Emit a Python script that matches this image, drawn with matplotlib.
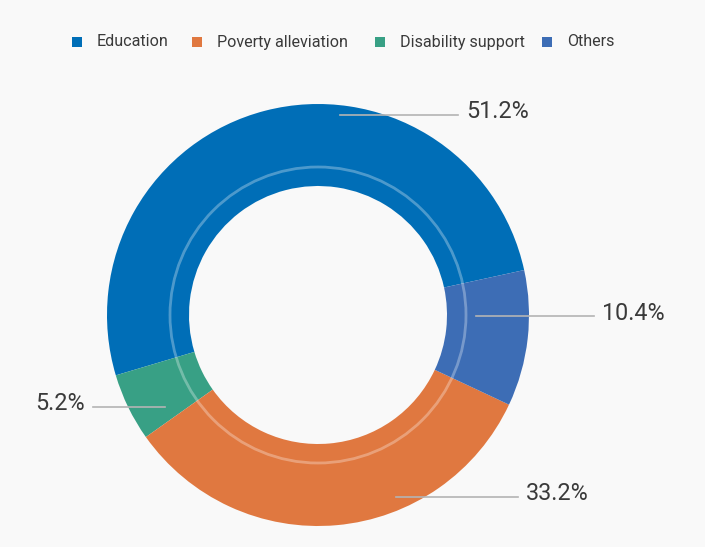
import matplotlib.pyplot as plt
from matplotlib.patches import Rectangle, Circle

# data (drawing order: counterclockwise from the Education/Others border)
names = ["Education", "Disability support", "Poverty alleviation", "Others"]
values = [51.2, 5.2, 33.2, 10.4]
colors = ["#006EB7", "#38A085", "#E07840", "#3D6DB5"]

# legend order as shown at the top
legend_names = ["Education", "Poverty alleviation", "Disability support", "Others"]

W, H = 705, 547
bg = "#F9F9F9"
cx, cy = 318, H - 315
r_out, r_in = 211, 129

fig = plt.figure(figsize=(W / 100, H / 100), dpi=100, facecolor=bg)
ax = fig.add_axes([0, 0, 1, 1])
ax.set_facecolor(bg)

ax.pie(values, colors=colors, startangle=12.3, counterclock=True,
       radius=r_out, center=(cx, cy),
       wedgeprops=dict(width=r_out - r_in, linewidth=0))

# faint inner ring
ax.add_patch(Circle((cx, cy), 148, fill=False, ec="white", lw=2, alpha=0.3))

# label lines: (y, line start x, line end x, text x, align)
label_pos = {
  "Education": (115, 340, 458, 466, "left"),
  "Others": (316, 476, 594, 602, "left"),
  "Poverty alleviation": (497, 396, 518, 526, "left"),
  "Disability support": (407, 165, 93, 85, "right"),
}
for name, v in zip(names, values):
  y, x0, x1, tx, ha = label_pos[name]
  ax.plot([x0, x1], [H - y, H - y], color="#B4B4B4", lw=1.2)
  ax.text(tx, H - y + 3, f"{v}%", ha=ha, va="center", fontsize=16.8,
          family="Roboto", color="#3A3A3A")

# legend
leg_x = [72, 192, 375, 542]
for name, x in zip(legend_names, leg_x):
  c = colors[names.index(name)]
  ax.add_patch(Rectangle((x, H - 47), 10, 10, color=c, lw=0))
  ax.text(x + 25, H - 42, name, ha="left", va="center", fontsize=11.6,
          family="Roboto", color="#3A3A3A")

ax.set_xlim(0, W)
ax.set_ylim(0, H)
ax.set_aspect("auto")
ax.axis("off")

fig.savefig("out.png", dpi=100, facecolor=bg)
